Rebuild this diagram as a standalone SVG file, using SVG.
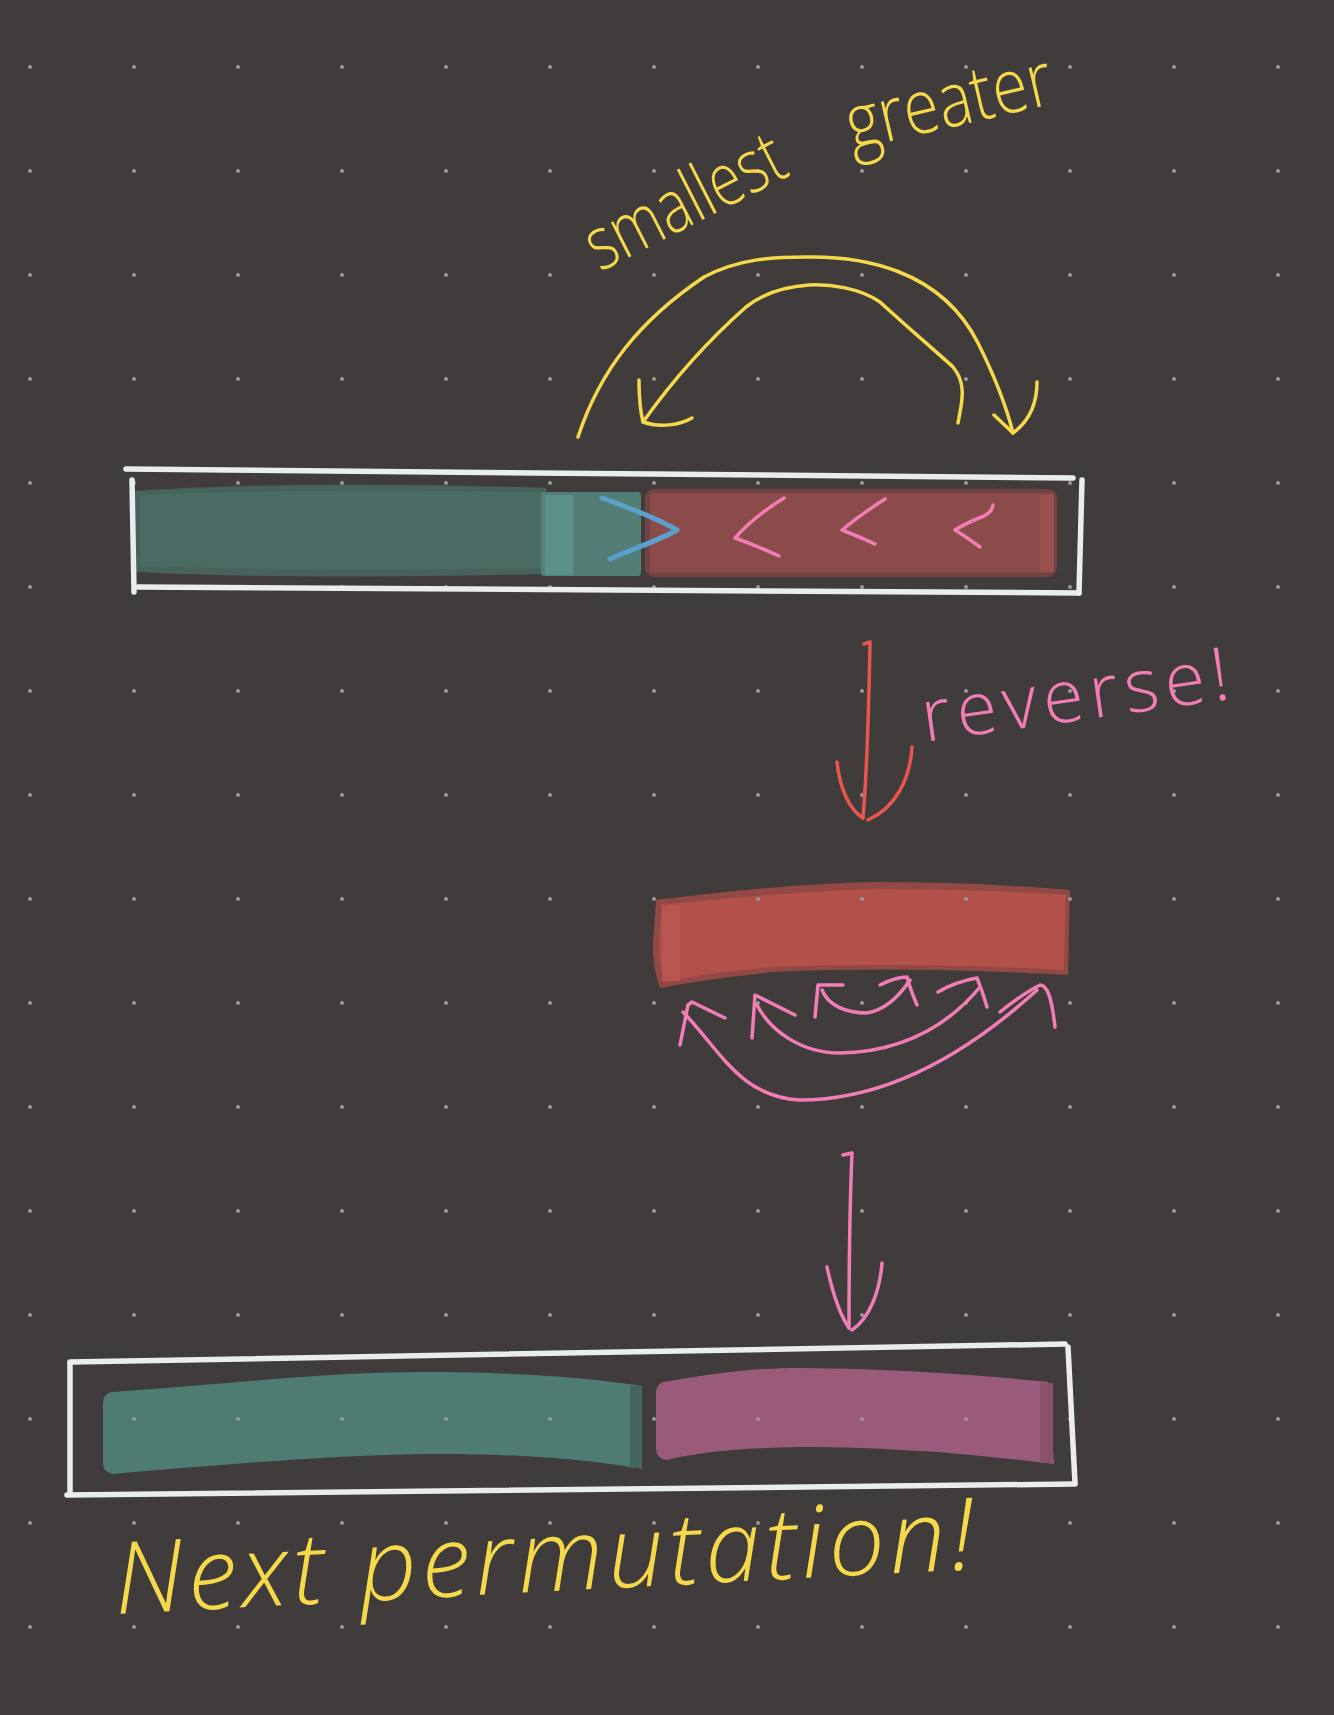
<svg xmlns="http://www.w3.org/2000/svg" width="1334" height="1715" viewBox="0 0 1334 1715">
<defs>
<pattern id="dots" x="-22" y="15" width="104" height="104" patternUnits="userSpaceOnUse"><circle cx="52" cy="52" r="2" fill="#9a9797"/></pattern>
<style>
.frame{fill:none;stroke:#e9eeea;stroke-width:5.5;stroke-linecap:round;stroke-linejoin:round}
.yel{fill:none;stroke:#f6d84b;stroke-width:3.5;stroke-linecap:round;stroke-linejoin:round}
.pink{fill:none;stroke:#f27db4;stroke-width:3.5;stroke-linecap:round;stroke-linejoin:round}
.red{fill:none;stroke:#e8574f;stroke-width:3.5;stroke-linecap:round;stroke-linejoin:round}
.blue{fill:none;stroke:#5aa0cc;stroke-width:5;stroke-linecap:round;stroke-linejoin:round}
.hand{font-family:"Open Sans","Lato","Liberation Sans",sans-serif;font-weight:300}
</style>
</defs>
<rect width="1334" height="1715" fill="#413c3c"/>

<g id="row1">
  <path d="M134 491 Q300 480 546 488 L548 574 Q300 580 136 572 Z" fill="#4a6963" opacity="0.85"/>
  <path d="M140 495 Q300 488 546 492 L546 568 Q300 572 140 566 Z" fill="#4a6a64"/>
  <rect x="541" y="492" width="100" height="84" rx="3" fill="#55857b" opacity="0.9"/>
  <rect x="545" y="495" width="28" height="80" fill="#5e968b" opacity="0.8"/>
  <rect x="645" y="489" width="412" height="88" rx="9" fill="#7f4545" opacity="0.8"/>
  <rect x="650" y="493" width="404" height="80" rx="4" fill="#8c4b4b"/>
  <rect x="1040" y="495" width="14" height="76" fill="#9b5050"/>
</g>

<g id="row2">
  <path d="M656 900 Q780 884 873 882 Q980 882 1070 890 L1068 975 Q907 966 773 972 Q700 980 660 988 Q650 960 654 930 Z" fill="#a14a45" opacity="0.85"/>
  <path d="M662 905 Q780 892 873 889 Q980 889 1066 895 L1064 970 Q907 962 773 967 Q700 974 664 982 Q658 960 660 930 Z" fill="#b1514a"/>
  <rect x="662" y="905" width="18" height="76" fill="#bb5650" opacity="0.8"/>
</g>

<g id="row3">
  <path d="M112 1392 C250 1382 330 1372 420 1372 C520 1372 590 1378 642 1386 L642 1469 C590 1460 520 1453 420 1454 C320 1456 220 1465 112 1474 Q102 1472 103 1460 L103 1402 Q104 1393 112 1392 Z" fill="#4e7b72"/>
  <rect x="630" y="1386" width="12" height="82" fill="#43655e"/>
  <path d="M664 1382 C720 1372 760 1368 800 1368 C900 1369 980 1375 1048 1382 L1054 1464 C980 1455 900 1447 800 1447 C740 1448 700 1452 666 1460 Q656 1458 656 1448 L656 1392 Q657 1383 664 1382 Z" fill="#9a5b7a"/>
  <rect x="1040" y="1383" width="13" height="80" fill="#8b506c"/>
</g>

<rect width="1334" height="1715" fill="url(#dots)"/>

<g id="box1" class="frame">
  <path d="M126 469 L1073 478"/>
  <path d="M1082 480 L1079 593"/>
  <path d="M138 587 L1079 593"/>
  <path d="M132 480 L134 592"/>
</g>

<g id="box3" class="frame">
  <path d="M70 1362 L1065 1344"/>
  <path d="M1068 1347 L1075 1483"/>
  <path d="M67 1495 L1075 1484"/>
  <path d="M70 1363 L70 1493"/>
</g>

<g id="connectors">
  <path class="yel" d="M578 437 C600 370 640 320 704 277 C740 258 775 257 806 257 C860 256 940 268 978 343 C994 375 1006 405 1013 433"/>
  <path class="yel" d="M994 415 L1013 433 M1037 382 C1037 405 1028 422 1013 433"/>
  <path class="yel" d="M958 423 C961 405 968 385 953 367 C940 355 905 325 880 302 C860 288 830 284 809 285 C780 287 760 296 746 307 C720 330 680 370 643 422"/>
  <path class="yel" d="M639 380 C639 395 640 410 643 422 C660 428 680 425 692 418"/>
  <path class="blue" d="M602 498 C630 508 660 520 677 530 C660 540 630 550 610 559"/>
  <path class="pink" d="M784 498 Q752 518 735 538 Q755 545 779 556"/>
  <path class="pink" d="M885 499 Q860 515 842 530 Q860 537 875 544"/>
  <path class="pink" d="M993 505 Q992 512 984 516 Q966 523 955 530 Q968 538 980 547"/>
  <path class="red" d="M864 644 L870 642 C869 700 867 770 863 818"/>
  <path class="red" d="M837 762 C840 790 850 810 863 818 M912 747 C910 780 895 808 868 820"/>
  <path class="pink" d="M680 1045 L688 1005 L692 1002 L725 1018"/>
  <path class="pink" d="M683 1012 C720 1050 740 1097 800 1100 C880 1100 960 1060 1037 990"/>
  <path class="pink" d="M1000 1012 C1015 1000 1030 990 1040 985 C1048 985 1052 1000 1055 1027"/>
  <path class="pink" d="M752 1038 L755 995 L795 1015"/>
  <path class="pink" d="M757 1005 C770 1030 800 1053 840 1053 C890 1052 940 1035 980 987"/>
  <path class="pink" d="M938 992 C950 985 965 980 977 978 C982 990 985 1000 987 1007"/>
  <path class="pink" d="M815 1017 L818 985 L843 985"/>
  <path class="pink" d="M822 990 C828 1005 845 1013 867 1013 C885 1010 900 995 910 980"/>
  <path class="pink" d="M880 985 C890 980 900 977 907 977 C910 988 914 998 917 1005"/>
  <path class="pink" d="M843 1155 L852 1153 C850 1200 849 1270 849 1328"/>
  <path class="pink" d="M827 1267 C832 1290 840 1315 849 1328 M882 1263 C880 1290 870 1318 852 1330"/>
</g>

<g id="labels">
  <text class="hand" x="600" y="272" font-size="74" fill="#f6d84b" textLength="215" lengthAdjust="spacingAndGlyphs" transform="rotate(-27 600 272)">smallest</text>
  <text class="hand" x="852" y="150" font-size="76" fill="#f6d84b" textLength="210" lengthAdjust="spacingAndGlyphs" transform="rotate(-13 852 150)">greater</text>
  <text class="hand" x="925" y="742" font-size="74" fill="#f27db4" textLength="310" transform="rotate(-8 925 742)">reverse!</text>
  <text class="hand" x="116" y="1614" font-size="100" font-style="italic" fill="#f6d84b" textLength="860" transform="rotate(-3 116 1614)">Next permutation!</text>
</g>
</svg>
